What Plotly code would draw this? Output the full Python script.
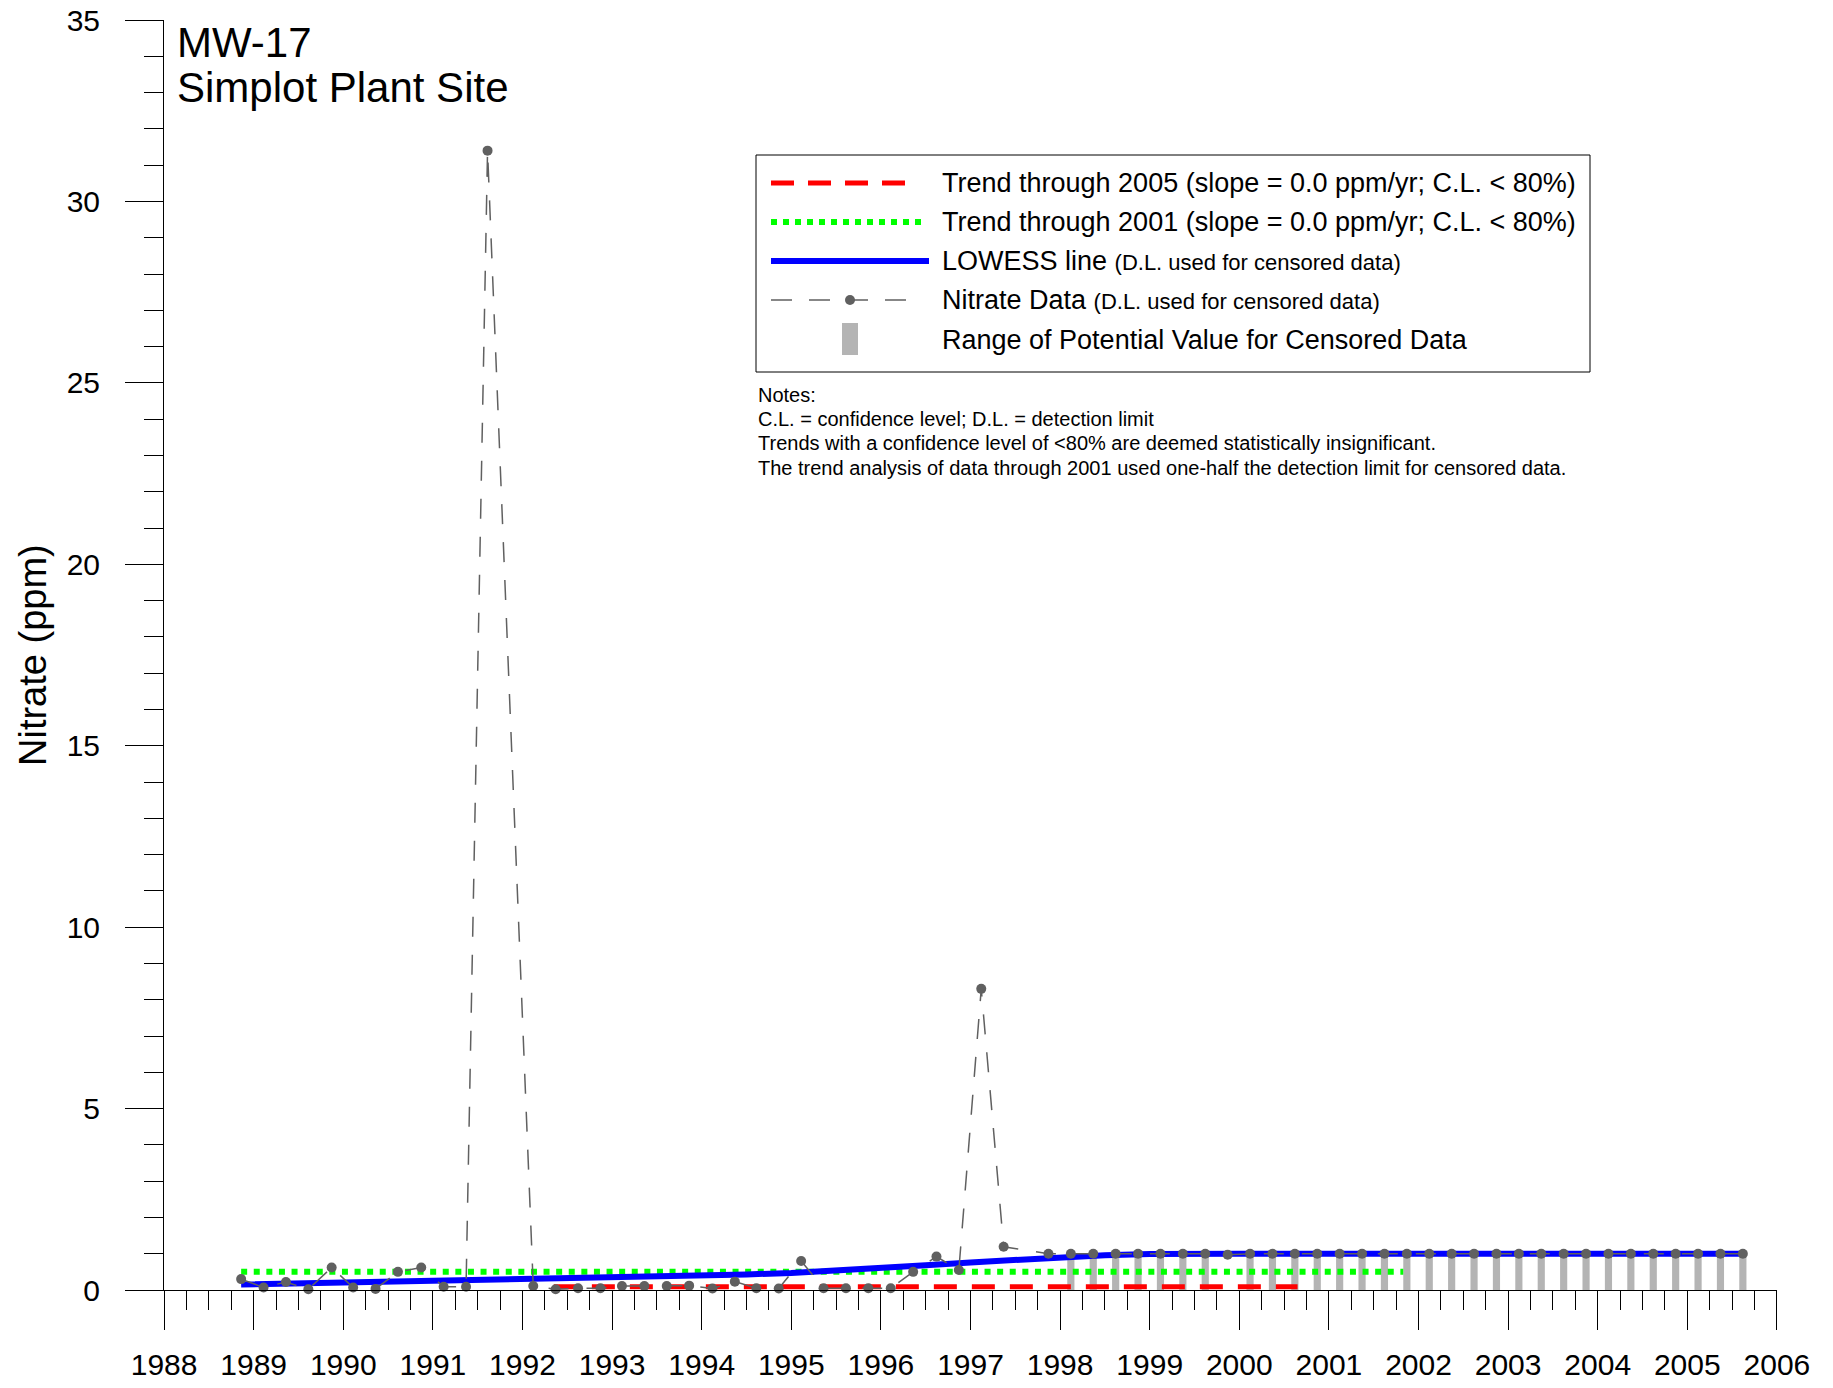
import plotly.graph_objects as go

# Nitrate samples (decimal year, ppm); D.L. used for censored values
data_year = [1988.86, 1989.11, 1989.36, 1989.61, 1989.87, 1990.11, 1990.36, 1990.61,
             1990.87, 1991.12, 1991.37, 1991.61, 1992.12, 1992.37, 1992.62, 1992.87,
             1993.11, 1993.36, 1993.61, 1993.86, 1994.12, 1994.37, 1994.61, 1994.86,
             1995.11, 1995.36, 1995.61, 1995.86, 1996.11, 1996.36, 1996.62, 1996.87,
             1997.12, 1997.37, 1997.87, 1998.12, 1998.37, 1998.62, 1998.87, 1999.12,
             1999.37, 1999.62, 1999.87, 2000.12, 2000.37, 2000.62, 2000.87, 2001.12,
             2001.37, 2001.62, 2001.87, 2002.12, 2002.37, 2002.62, 2002.87, 2003.12,
             2003.37, 2003.62, 2003.87, 2004.12, 2004.37, 2004.62, 2004.87, 2005.12,
             2005.37, 2005.62]
nitrate = [0.30, 0.07, 0.22, 0.02, 0.62, 0.07, 0.03, 0.50,
           0.62, 0.09, 0.09, 31.4, 0.11, 0.02, 0.05, 0.05,
           0.11, 0.11, 0.11, 0.12, 0.04, 0.23, 0.05, 0.04,
           0.80, 0.05, 0.05, 0.05, 0.05, 0.50, 0.92, 0.55,
           8.3, 1.19, 1.0, 1.0, 1.0, 1.0, 1.0, 1.0,
           1.0, 1.0, 0.97, 1.0, 1.0, 1.0, 1.0, 1.0,
           1.0, 1.0, 1.0, 1.0, 1.0, 1.0, 1.0, 1.0,
           1.0, 1.0, 1.0, 1.0, 1.0, 1.0, 1.0, 1.0,
           1.0, 1.0]

# censored samples: range of potential value
cens_year = [1998.12, 1998.37, 1998.62, 1998.87, 1999.12, 1999.37, 1999.62,
             2000.12, 2000.37, 2000.62, 2000.87, 2001.12, 2001.37, 2001.62, 2001.87,
             2002.12, 2002.37, 2002.62, 2002.87, 2003.12, 2003.37, 2003.62, 2003.87,
             2004.12, 2004.37, 2004.62, 2004.87, 2005.12, 2005.37, 2005.62]
cens_low = [0.0] * len(cens_year)
cens_high = [1.0] * len(cens_year)

# LOWESS line
lowess_year = [1988.86, 1989.5, 1990.0, 1990.86, 1991.5, 1992.0, 1992.5, 1993.0, 1993.5,
               1994.0, 1994.5, 1995.0, 1995.5, 1996.0, 1996.5, 1997.0, 1997.5, 1998.0,
               1998.5, 1999.0, 1999.5, 2000.0, 2005.62]
lowess_val = [0.15, 0.18, 0.20, 0.22, 0.26, 0.29, 0.32, 0.34, 0.37,
              0.40, 0.43, 0.47, 0.53, 0.60, 0.68, 0.76, 0.84, 0.91,
              0.96, 0.99, 1.0, 1.0, 1.0]

# trend lines
trend05_year = [1992.35, 2000.65]
trend05_val = [0.09, 0.09]
trend01_year = [1988.86, 2001.83]
trend01_val = [0.5, 0.5]

legend_labels = [
    "Trend through 2005 (slope = 0.0 ppm/yr; C.L. < 80%)",
    "Trend through 2001 (slope = 0.0 ppm/yr; C.L. < 80%)",
    "LOWESS line <span style='font-size:22px'>(D.L. used for censored data)</span>",
    "Nitrate Data <span style='font-size:22px'>(D.L. used for censored data)</span>",
    "Range of Potential Value for Censored Data",
]
notes = [
    "Notes:",
    "C.L. = confidence level; D.L. = detection limit",
    "Trends with a confidence level of <80% are deemed statistically insignificant.",
    "The trend analysis of data through 2001 used one-half the detection limit for censored data.",
]

FONT = "Liberation Sans, Arial, sans-serif"
W, H = 1833, 1388
OFF = 8  # page body margin shifts the figure
# plot area in screen pixels
PL, PR, PT, PB = 164, 1777, 20, 1290
DATA_GRAY = "#606060"
BAR_GRAY = "#b4b4b4"


def px_x(x):
    return (x - PL) / (PR - PL)


def px_y(y):
    return (PB - y) / (PB - PT)


fig = go.Figure()

fig.add_trace(go.Bar(x=cens_year, y=[h - l for h, l in zip(cens_high, cens_low)],
                     base=cens_low, width=0.08, marker_color=BAR_GRAY,
                     marker_line_width=0))
fig.add_trace(go.Scatter(x=trend05_year, y=trend05_val, mode="lines",
                         line=dict(color="#ff0000", width=5, dash="23px,15px")))
fig.add_trace(go.Scatter(x=trend01_year, y=trend01_val, mode="lines",
                         line=dict(color="#00ff00", width=6, dash="6px,6.6px")))
fig.add_trace(go.Scatter(x=lowess_year, y=lowess_val, mode="lines",
                         line=dict(color="#0000ff", width=6)))
fig.add_trace(go.Scatter(x=data_year, y=nitrate, mode="lines+markers",
                         line=dict(color=DATA_GRAY, width=1.5, dash="20px,18px"),
                         marker=dict(color=DATA_GRAY, size=10), cliponaxis=False))

# legend box drawn by hand
shapes = [
    dict(type="rect", xref="paper", yref="paper", x0=px_x(756), x1=px_x(1590),
         y0=px_y(155), y1=px_y(372), line=dict(color="black", width=1),
         fillcolor="white", layer="below"),
    dict(type="line", xref="paper", yref="paper", x0=px_x(771), x1=px_x(910),
         y0=px_y(183), y1=px_y(183), line=dict(color="#ff0000", width=5, dash="23px,14px")),
    dict(type="line", xref="paper", yref="paper", x0=px_x(771), x1=px_x(927),
         y0=px_y(222), y1=px_y(222), line=dict(color="#00ff00", width=6, dash="6px,6px")),
    dict(type="line", xref="paper", yref="paper", x0=px_x(771), x1=px_x(929),
         y0=px_y(261), y1=px_y(261), line=dict(color="#0000ff", width=6)),
    dict(type="line", xref="paper", yref="paper", x0=px_x(771), x1=px_x(907),
         y0=px_y(300), y1=px_y(300), line=dict(color=DATA_GRAY, width=1.5, dash="21px,17px")),
    dict(type="circle", xref="paper", yref="paper", x0=px_x(845), x1=px_x(855),
         y0=px_y(295), y1=px_y(305), fillcolor=DATA_GRAY, line=dict(width=0)),
    dict(type="rect", xref="paper", yref="paper", x0=px_x(842), x1=px_x(858),
         y0=px_y(323), y1=px_y(355), fillcolor=BAR_GRAY, line=dict(width=0)),
]

annotations = [
    dict(text="MW-17", x=px_x(175), y=px_y(42), xanchor="left", yanchor="middle",
         font=dict(size=42)),
    dict(text="Simplot Plant Site", x=px_x(175), y=px_y(88), xanchor="left",
         yanchor="middle", font=dict(size=42)),
    dict(text="Nitrate (ppm)", x=px_x(33), y=px_y(655), xanchor="center",
         yanchor="middle", textangle=-90, font=dict(size=38)),
]
for label, ypos in zip(legend_labels, [183, 222, 261, 300, 340]):
    annotations.append(dict(text=label, x=px_x(940), y=px_y(ypos), xanchor="left",
                            yanchor="middle", font=dict(size=27)))
for line, ypos in zip(notes, [395, 419, 443, 468]):
    annotations.append(dict(text=line, x=px_x(756), y=px_y(ypos), xanchor="left",
                            yanchor="middle", font=dict(size=20)))
for a in annotations:
    a.update(xref="paper", yref="paper", showarrow=False)

fig.update_layout(
    width=W, height=H,
    margin=dict(l=PL - OFF, r=W - (PR - OFF), t=PT - OFF, b=H - (PB - OFF),
                autoexpand=False),
    plot_bgcolor="white", paper_bgcolor="white",
    font=dict(family=FONT, color="black"),
    showlegend=False, barmode="overlay",
    shapes=shapes, annotations=annotations,
)
fig.update_xaxes(
    range=[1987.999, 2006.001], tickmode="linear", tick0=1988, dtick=1,
    automargin=False, ticklabeloverflow="allow",
    showgrid=False, zeroline=False, showline=True, linecolor="black", linewidth=1,
    ticks="outside", ticklen=39, tickcolor="black", tickwidth=1,
    tickfont=dict(size=30), ticklabelstandoff=9,
    minor=dict(dtick=0.25, tick0=1988, ticks="outside", ticklen=19,
               tickcolor="black", tickwidth=1, showgrid=False),
)
fig.update_yaxes(
    range=[0, 35.001], tickmode="linear", tick0=0, dtick=5,
    automargin=False, ticklabeloverflow="allow",
    showgrid=False, zeroline=False, showline=True, linecolor="black", linewidth=1,
    ticks="outside", ticklen=38, tickcolor="black", tickwidth=1,
    tickfont=dict(size=30), ticklabelstandoff=19,
    minor=dict(dtick=1, ticks="outside", ticklen=19, tickcolor="black",
               tickwidth=1, showgrid=False),
)

fig.write_html("out.html")
